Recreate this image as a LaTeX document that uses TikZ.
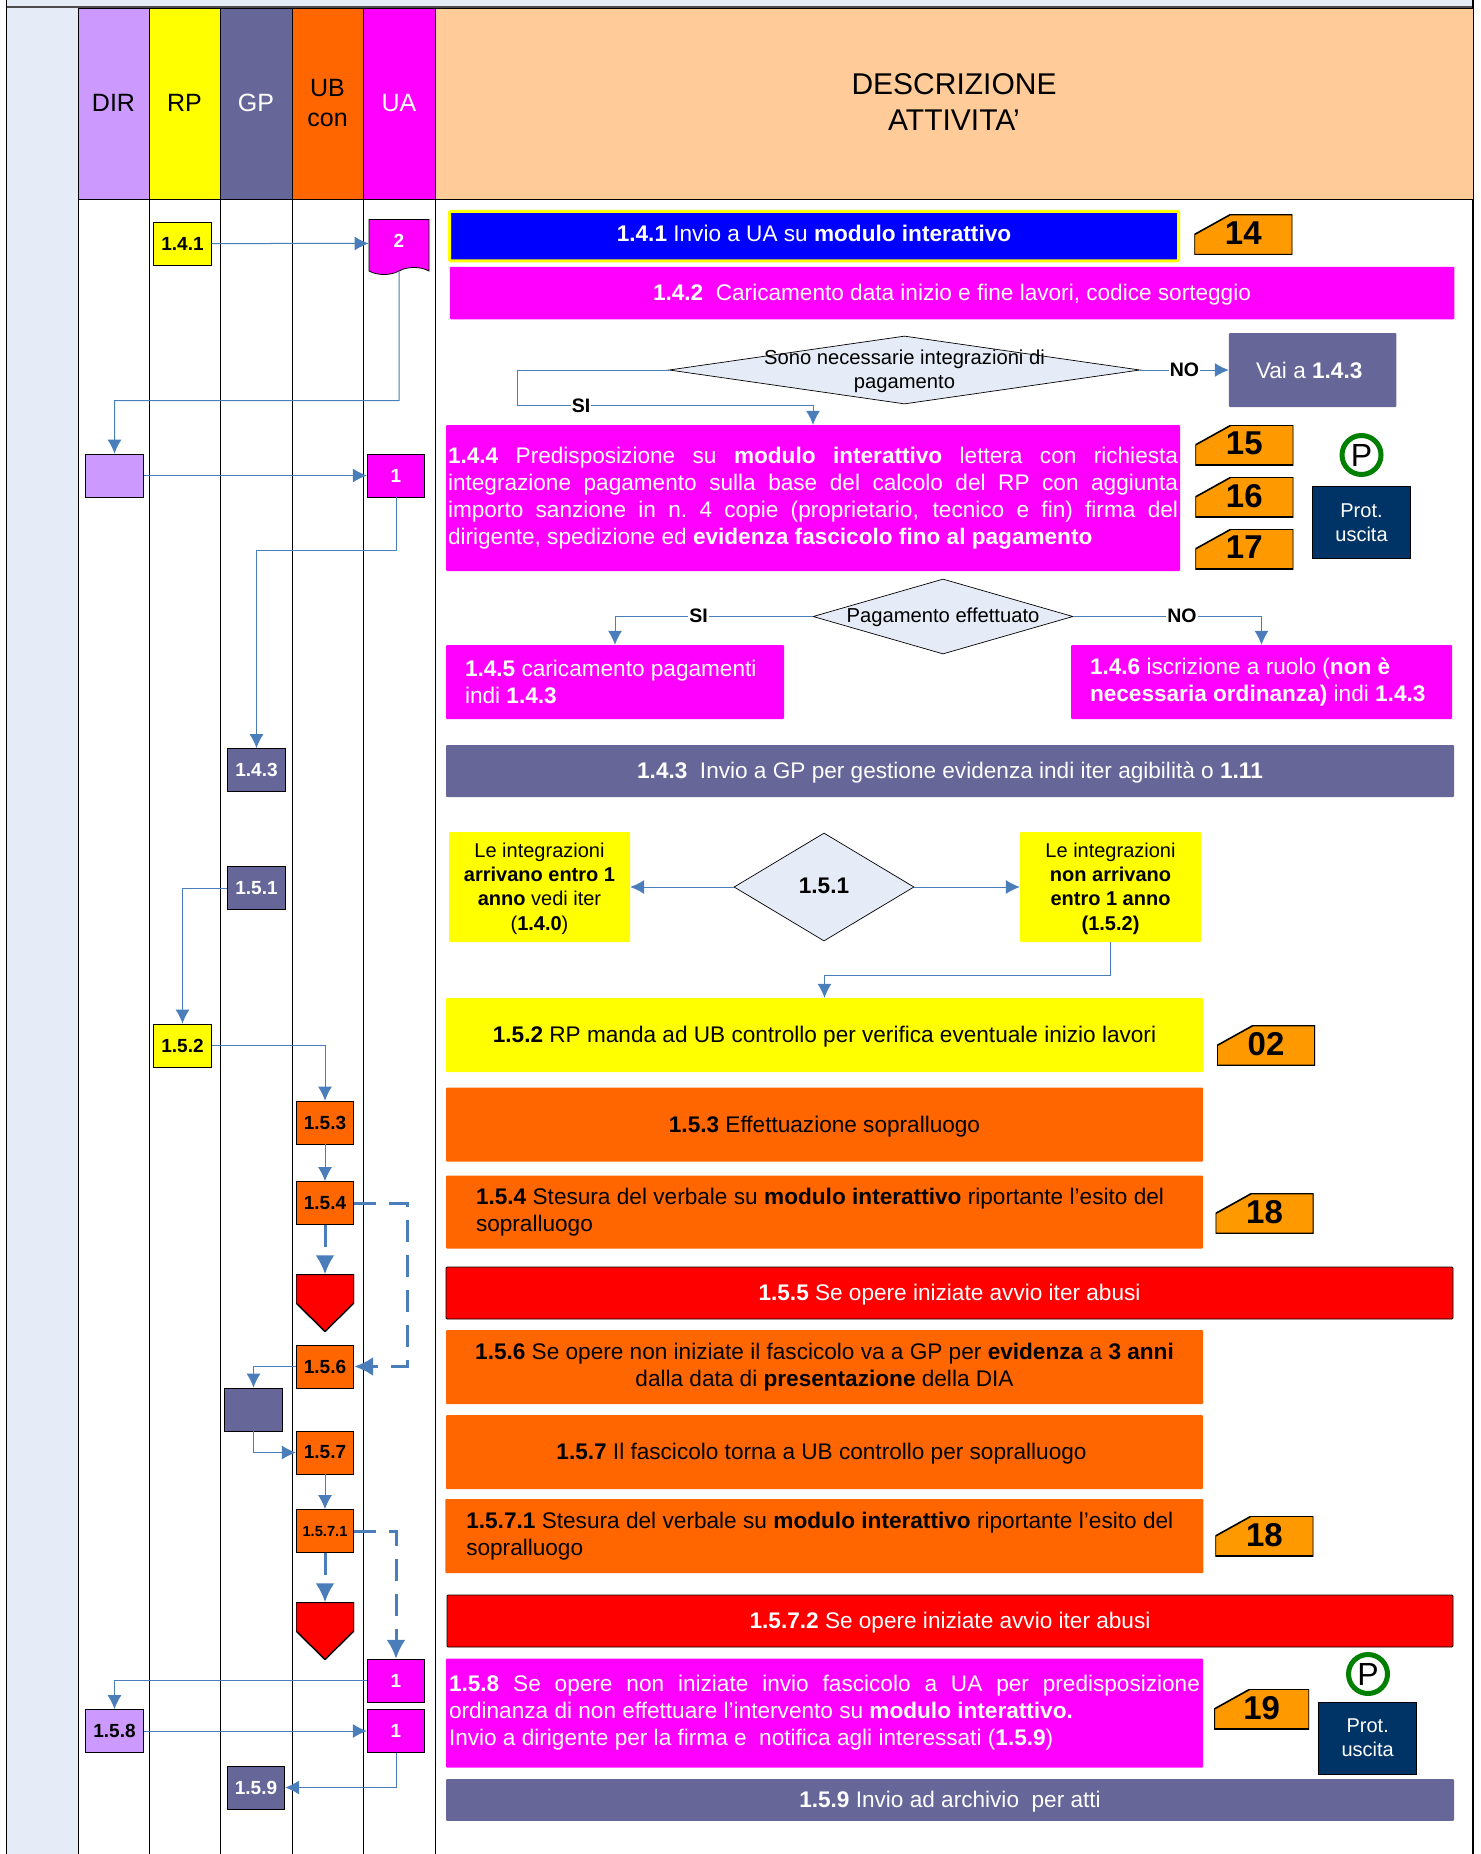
\documentclass[tikz,border=0pt]{standalone}
\usepackage{fontspec}
\setmainfont{Liberation Sans}
\usetikzlibrary{arrows.meta,shapes.geometric,shapes.symbols}
\definecolor{dirpurple}{HTML}{CC99FF}
\definecolor{rpyellow}{HTML}{FFFF00}
\definecolor{gpblue}{HTML}{666699}
\definecolor{ubor}{HTML}{FF6600}
\definecolor{uamag}{HTML}{FF00FF}
\definecolor{descr}{HTML}{FFCC99}
\definecolor{band}{HTML}{E6ECF7}
\definecolor{flowblue}{HTML}{4A7EBB}
\definecolor{tagor}{HTML}{FF9900}
\definecolor{prot}{HTML}{003366}
\definecolor{pgreen}{HTML}{008000}
\definecolor{purered}{HTML}{FF0000}
\definecolor{pureblue}{HTML}{0000FF}
\newcommand{\bodyf}{\fontsize{22.6}{27}\selectfont}
\newcommand{\notef}{\fontsize{20}{24.2}\selectfont}
\newcommand{\jline}[2]{\makebox[#1][s]{#2}}
\tikzset{
 wh/.style 2 args={minimum width=#1pt,minimum height=#2pt},
 head/.style={draw=black,line width=1pt,inner sep=0pt,align=center,text depth=3pt,font=\fontsize{25}{29.5}\selectfont},
 small/.style={draw=black,line width=.8pt,inner sep=0pt,wh={57.5}{43},font=\fontsize{19}{22}\selectfont\bfseries},
 bar/.style={inner sep=0pt,rounded corners=1pt,align=center,font=\bodyf},
 oneline/.style={text depth=1.4pt},
 magbar/.style={bar,fill=uamag,text=white},
 gpbar/.style={bar,fill=gpblue,text=white},
 orbar/.style={bar,fill=ubor},
 yelbar/.style={bar,fill=rpyellow},
 redbar/.style={bar,fill=purered,draw=black,line width=.8pt,text=white},
 note/.style={yelbar,wh={181}{110},text depth=1pt,font=\notef},
 dec/.style={diamond,draw=black,line width=.7pt,fill=band,inner sep=0pt},
 tagbox/.style={inner sep=0pt,wh={98}{40},text depth=3pt,font=\fontsize{33}{36}\selectfont\bfseries,
  path picture={\filldraw[fill=tagor,draw=black,line width=1.6pt] (path picture bounding box.south west) -- ++(0,-20) -- ++(36,-20) -| (path picture bounding box.south east) -- cycle;}},
 protbox/.style={draw=black,line width=.8pt,fill=prot,text=white,inner sep=0pt,wh={98}{72},align=center,font=\fontsize{20}{24}\selectfont},
 pmark/.style={circle,draw=pgreen,line width=5pt,minimum size=39pt,inner sep=0pt,font=\fontsize{32}{32}\selectfont},
 stopbox/.style={inner sep=0pt,wh={58}{57},
  path picture={\filldraw[fill=purered,draw=black,line width=1.4pt] (path picture bounding box.north west) -- (path picture bounding box.north east) -- ++(0,28.5) -- (path picture bounding box.south) -- ++(-29,-28.5) -- cycle;}},
 lab/.style={fill=white,inner sep=1pt,font=\fontsize{19.5}{22}\selectfont\bfseries},
 flow/.style={draw=flowblue,line width=1pt,-{Latex[length=14pt,width=14pt]}},
 dflow/.style={draw=flowblue,line width=3pt,dash pattern=on 22pt off 13pt,-{Latex[length=19pt,width=19pt]}}
}
\begin{document}
\begin{tikzpicture}[x=1pt,y=-1pt]
\useasboundingbox (0,0) rectangle (1480,1854);
\fill[band] (6.6,0) rectangle (1473,8);
\fill[band] (6.6,8) rectangle (78,1854);
\draw[black!70,line width=2.4pt] (6.6,7) -- (1473,7);
\draw[black,line width=1pt] (6.6,0) -- (6.6,1854);
\draw[black,line width=1.4pt] (1473,0) -- (1473,1854);
\foreach \cx in {78,149,220,292,363,435}
 \draw[black,line width=1pt] (\cx,199.7) -- (\cx,1854);
\node(dir)[head,fill=dirpurple,wh={71}{191}] at (113.5,104.2){DIR};
\node(rp)[head,fill=rpyellow,wh={71}{191}] at (184.5,104.2){RP};
\node(gp)[head,fill=gpblue,text=white,wh={72}{191}] at (256,104.2){GP};
\node(ubcon)[head,fill=ubor,wh={71}{191}] at (327.5,104.2){UB\\con};
\node(ua)[head,fill=uamag,text=white,wh={72}{191}] at (399,104.2){UA};
\node(attivita)[head,fill=descr,wh={1038}{191},text depth=4pt,font=\fontsize{30}{36.5}\selectfont] at (954,104.2){DESCRIZIONE\\ATTIVITA’};
\node(s141)[small,fill=rpyellow] at (182.5,243.5){1.4.1};
\node(doc2)[tape,tape bend top=none,tape bend height=7pt,draw=black,line width=.8pt,fill=uamag,text=white,inner sep=0pt,wh={60}{55},font=\fontsize{19}{22}\selectfont\bfseries] at (399,243.5){\raisebox{5pt}{2}};
\node(dirb)[small,fill=dirpurple] at (114.5,475.5){};
\node(ua1)[small,fill=uamag,text=white] at (396,475.5){1};
\node(s143)[small,fill=gpblue,text=white] at (256.5,770){1.4.3};
\node(s151)[small,fill=gpblue,text=white] at (256.5,888){1.5.1};
\node(s152)[small,fill=rpyellow] at (182.5,1045.5){1.5.2};
\node(s153)[small,fill=ubor] at (325,1122.5){1.5.3};
\node(s154)[small,fill=ubor] at (325,1203){1.5.4};
\node(stop1)[stopbox] at (325,1303){};
\node(s156)[small,fill=ubor] at (325,1366.5){1.5.6};
\node(gpb)[small,fill=gpblue] at (253.5,1409.5){};
\node(s157)[small,fill=ubor] at (325,1452.5){1.5.7};
\node(s1571)[small,fill=ubor,font=\fontsize{14.7}{18}\selectfont\bfseries] at (325,1531){1.5.7.1};
\node(stop2)[stopbox] at (325,1631){};
\node(ua2)[small,fill=uamag,text=white] at (396,1680.7){1};
\node(ua3)[small,fill=uamag,text=white] at (396,1731){1};
\node(s158)[small,fill=dirpurple] at (114.5,1731){1.5.8};
\node(s159)[small,fill=gpblue,text=white] at (256,1787.5){1.5.9};
\node(b141)[bar,fill=pureblue,draw=rpyellow,line width=3pt,text=white,text depth=6pt,wh={729}{49.5}] at (814,236){\textbf{1.4.1} Invio a UA su \textbf{modulo interattivo}};
\node(b142)[magbar,oneline,wh={1004.5}{52.5}] at (952,293){\textbf{1.4.2}\ \ Caricamento data inizio e fine lavori, codice sorteggio};
\node(dec1)[dec,wh={471}{68}] at (904.5,370){};
\node(dec1t)[inner sep=0pt,align=center,font=\fontsize{20.2}{24}\selectfont] at (904.5,371.4){Sono necessarie integrazioni di\\pagamento};
\node(vai)[gpbar,wh={167.5}{74}] at (1312.7,370){Vai a \textbf{1.4.3}\hspace*{7pt}};
\node(b144)[magbar,wh={734}{146},text width=730pt,align=flush left] at (813,498){\jline{730pt}{\textbf{1.4.4} Predisposizione su \textbf{modulo interattivo} lettera con richiesta}\\\jline{730pt}{integrazione pagamento sulla base del calcolo del RP con aggiunta}\\\jline{730pt}{importo sanzione in n.\ 4 copie (proprietario, tecnico e fin) firma del}\\dirigente, spedizione ed \textbf{evidenza fascicolo fino al pagamento}};
\node(dec2)[dec,wh={260}{75}] at (943,616.5){};
\node(dec2t)[inner sep=0pt,font=\fontsize{20.2}{24}\selectfont] at (943,617.4){Pagamento effettuato};
\node(b145)[magbar,wh={338}{74},text width=300pt,align=flush left] at (615,682){\textbf{1.4.5} caricamento pagamenti\\indi \textbf{1.4.3}};
\node(b146)[magbar,wh={381}{74},text width=343pt,align=flush left] at (1261.5,682){\textbf{1.4.6} iscrizione a ruolo (\textbf{non è}\\\textbf{necessaria ordinanza)} indi \textbf{1.4.3}};
\node(b143)[gpbar,oneline,wh={1008}{52}] at (950,771){\textbf{1.4.3}\ \ Invio a GP per gestione evidenza indi iter agibilità o \textbf{1.11}};
\node(yl)[note] at (539.5,887){Le integrazioni\\\textbf{arrivano entro 1}\\\textbf{anno} vedi iter\\(\textbf{1.4.0})};
\node(d151)[dec,wh={180}{108}] at (824,887){};
\node(d151t)[inner sep=0pt,font=\bodyf\bfseries] at (824,886){1.5.1};
\node(yr)[note] at (1110.5,887){Le integrazioni\\\textbf{non arrivano}\\\textbf{entro 1 anno}\\\textbf{(1.5.2)}};
\node(b152)[yelbar,oneline,wh={757}{74}] at (824.5,1035){\textbf{1.5.2} RP manda ad UB controllo per verifica eventuale inizio lavori};
\node(b153)[orbar,oneline,wh={757}{74}] at (824.5,1124.5){\textbf{1.5.3} Effettuazione sopralluogo};
\node(b154)[orbar,wh={757}{73},text width=697pt,align=flush left] at (824.5,1212){\jline{688pt}{\textbf{1.5.4} Stesura del verbale su \textbf{modulo interattivo} riportante l’esito del}\\sopralluogo};
\node(b155)[redbar,oneline,wh={1007}{52}] at (949.5,1293){\textbf{1.5.5} Se opere iniziate avvio iter abusi};
\node(b156)[orbar,wh={757}{74}] at (824.5,1367){\textbf{1.5.6} Se opere non iniziate il fascicolo va a GP per \textbf{evidenza} a \textbf{3 anni}\\dalla data di \textbf{presentazione} della DIA};
\node(b157)[orbar,oneline,wh={757}{74}] at (824.5,1452){\textbf{1.5.7} Il fascicolo torna a UB controllo per sopralluogo\hspace*{6pt}};
\node(b1571)[orbar,wh={758}{74},text width=716pt,align=flush left] at (824.3,1536){\jline{707pt}{\textbf{1.5.7.1} Stesura del verbale su \textbf{modulo interattivo} riportante l’esito del}\\sopralluogo};
\node(b1572)[redbar,oneline,wh={1006}{52}] at (950,1621){\textbf{1.5.7.2} Se opere iniziate avvio iter abusi};
\node(b158)[magbar,wh={757}{109},text width=751pt,align=flush left] at (824.5,1713){\jline{751pt}{\textbf{1.5.8} Se opere non iniziate invio fascicolo a UA per predisposizione}\\ordinanza di non effettuare l’intervento su \textbf{modulo interattivo.}\\Invio a dirigente per la firma e\ \ notifica agli interessati (\textbf{1.5.9})};
\node(b159)[gpbar,oneline,wh={1008}{41.7}] at (950,1800){\textbf{1.5.9} Invio ad archivio\ \ per atti};
\node(t14)[tagbox] at (1243.3,234.6){14};
\node(t15)[tagbox] at (1244.3,445){15};
\node(t16)[tagbox] at (1244.3,497){16};
\node(t17)[tagbox] at (1244.3,549){17};
\node(t02)[tagbox] at (1266,1045.5){02};
\node(t18a)[tagbox] at (1264.5,1213.5){18};
\node(t18b)[tagbox] at (1264.4,1536){18};
\node(t19)[tagbox,wh={95}{40}] at (1261.7,1709){19};
\node(p1)[pmark] at (1361.5,455){P};
\node(prot1)[protbox] at (1361.5,522.6){Prot.\\uscita};
\node(p2)[pmark] at (1368,1674){P};
\node(prot2)[protbox] at (1367.7,1738){Prot.\\uscita};
\coordinate(k1) at (399,400.5);
\coordinate(k2) at (396,550);
\coordinate(k3) at (407,1203);
\coordinate(k4) at (1110.5,975);
\coordinate(k5) at (517,370);
\coordinate(k6) at (813,405.7);
\path[flow] (s141) -- (doc2);
\path[flow] (doc2) -- (k1) -| (dirb);
\path[flow] (dirb) -- (ua1);
\path[flow] (ua1) -- (k2) -| (s143);
\path[flow] (dec1) -- (k5) |- (k6) -- (b144);
\path[flow] (dec1) -- (vai);
\path[flow] (dec2) -| (b145);
\path[flow] (dec2) -| (b146);
\path[flow] (s151) -| (s152);
\path[flow] (d151) -- (yl);
\path[flow] (d151) -- (yr);
\path[flow] (yr) -- (k4) -| (b152);
\path[flow] (s152) -| (s153);
\path[flow] (s153) -- (s154);
\path[dflow] (s154) -- (stop1);
\path[dflow] (s154) -- (k3) |- (s156);
\path[flow] (s156) -| (gpb);
\path[flow] (gpb) |- (s157);
\path[flow] (s157) -- (s1571);
\path[dflow] (s1571) -- (stop2);
\path[dflow] (s1571) -| (ua2);
\path[flow] (ua2) -| (s158);
\path[flow] (s158) -- (ua3);
\path[flow] (ua3) |- (s159);
\node(si1)[lab] at (581,405.7){SI};
\node(no1)[lab] at (1184.5,370){NO};
\node(si2)[lab] at (698.6,615.5){SI};
\node(no2)[lab] at (1182,615.5){NO};
\end{tikzpicture}
\end{document}
